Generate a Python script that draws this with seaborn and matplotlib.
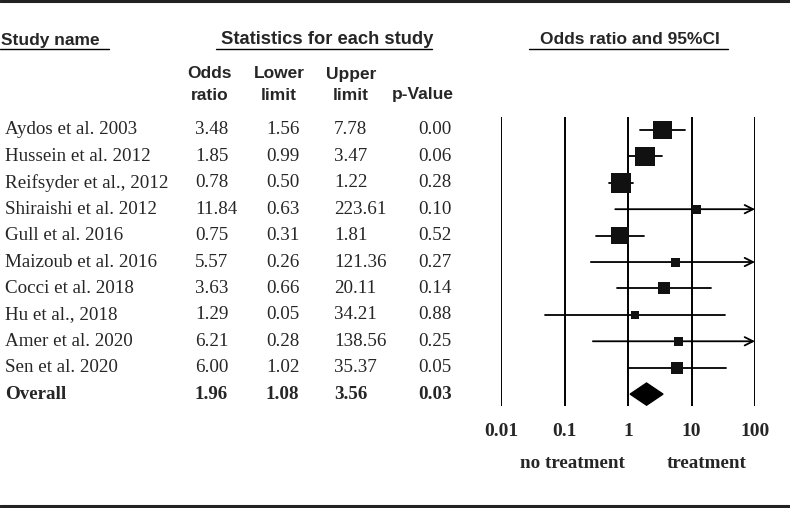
# forest plot of odds ratios, study table on the left

import numpy as np
import seaborn as sns
import matplotlib.pyplot as plt
from matplotlib.lines import Line2D
from matplotlib.transforms import blended_transform_factory

studies = ['Aydos et al. 2003', 'Hussein et al. 2012', 'Reifsyder et al., 2012',
           'Shiraishi et al. 2012', 'Gull et al. 2016', 'Maizoub et al. 2016',
           'Cocci et al. 2018', 'Hu et al., 2018', 'Amer et al. 2020', 'Sen et al. 2020']
odds_ratio = [3.48, 1.85, 0.78, 11.84, 0.75, 5.57, 3.63, 1.29, 6.21, 6.00]
lower = [1.56, 0.99, 0.50, 0.63, 0.31, 0.26, 0.66, 0.05, 0.28, 1.02]
upper = [7.78, 3.47, 1.22, 223.61, 1.81, 121.36, 20.11, 34.21, 138.56, 35.37]
p_value = [0.00, 0.06, 0.28, 0.10, 0.52, 0.27, 0.14, 0.88, 0.25, 0.05]
# relative weights (%)
weight_pct = [16.5, 18.3, 20.3, 4.1, 14.7, 4.1, 7.3, 3.3, 4.1, 7.3]

overall = {'or': 1.96, 'lower': 1.08, 'upper': 3.56, 'p': 0.03}

ticks = [0.01, 0.1, 1, 10, 100]
tick_labels = ['0.01', '0.1', '1', '10', '100']

sns.set_style('white')
plt.rcParams['font.family'] = ['Liberation Serif', 'DejaVu Serif']

W, H = 790, 508
fig = plt.figure(figsize=(W / 100, H / 100), dpi=100)

# forest panel, placed in pixel terms
ax = fig.add_axes([501 / W, 1 - 406 / H, 254 / W, 289 / H])
ax.set_xscale('log')
ax.set_xlim(0.01, 100)
ax.set_ylim(10.45, -0.49)
for s in ax.spines.values():
    s.set_visible(False)

for t in ticks:
    ax.axvline(t, color='black', lw=1.4, zorder=1)

rows = np.arange(len(studies))
clip_hi = [min(u, 100) for u in upper]
for r, lo, hi, u in zip(rows, lower, clip_hi, upper):
    if u > 100:
        ax.annotate('', xy=(hi, r), xytext=(lo, r),
                    arrowprops=dict(arrowstyle='->', color='black', lw=1.3,
                                    shrinkA=0, shrinkB=0, mutation_scale=15))
    else:
        ax.plot([lo, hi], [r, r], color='black', lw=1.3, zorder=2)

df = {'or': odds_ratio, 'row': rows, 'w': weight_pct}
sns.scatterplot(x='or', y='row', size='w', data=df, sizes=(33, 215), marker='s',
                color='#111111', edgecolor='none', legend=False, ax=ax, zorder=3)

# pooled estimate diamond
yo = len(studies)
ax.fill([overall['lower'], overall['or'], overall['upper'], overall['or']],
        [yo, yo - 0.42, yo, yo + 0.42], color='black', zorder=3)

ax.set_xticks(ticks)
ax.set_xticklabels(tick_labels, fontsize=14, fontweight='bold')
ax.minorticks_off()
ax.tick_params(axis='x', length=0, pad=12)
ax.set_yticks([])
ax.set_xlabel('')
ax.set_ylabel('')

fig.text(572 / W, 1 - 463 / H, 'no treatment', ha='center', va='center',
         fontsize=13.7, fontweight='bold')
fig.text(707 / W, 1 - 463 / H, 'treatment', ha='center', va='center',
         fontsize=13.7, fontweight='bold')

# table columns
tr = blended_transform_factory(fig.transFigure, ax.transData)
cols = [5, 195, 266, 334, 418]
for r in rows:
    vals = [studies[r], f'{odds_ratio[r]:.2f}', f'{lower[r]:.2f}',
            f'{upper[r]:.2f}', f'{p_value[r]:.2f}']
    for x, v in zip(cols, vals):
        fig.text(x / W, r, v, transform=tr, ha='left', va='center', fontsize=13.7)
vals = ['Overall', f"{overall['or']:.2f}", f"{overall['lower']:.2f}",
        f"{overall['upper']:.2f}", f"{overall['p']:.2f}"]
for x, v in zip(cols, vals):
    fig.text(x / W, yo, v, transform=tr, ha='left', va='center',
             fontsize=13.7, fontweight='bold')

# headers
hdr = dict(family=['Liberation Sans', 'DejaVu Sans'], fontweight='bold', fontsize=12.5)
fig.text(1 / W, 1 - 40 / H, 'Study name', ha='left', va='center', **hdr)
fig.text(327 / W, 1 - 40 / H, 'Statistics for each study', ha='center', va='center',
         family=['Liberation Sans', 'DejaVu Sans'], fontweight='bold', fontsize=13.2)
fig.text(630 / W, 1 - 40 / H, 'Odds ratio and 95%CI', ha='center', va='center', **hdr)
for x, top, bot in [(210, 'Odds', 'ratio'), (279, 'Lower', 'limit'), (351, 'Upper', 'limit')]:
    fig.text(x / W, 1 - 74 / H, top, ha='center', va='center', **hdr)
    fig.text(x / W, 1 - 95 / H, bot, ha='center', va='center', **hdr)
fig.text(423 / W, 1 - 95 / H, 'p-Value', ha='center', va='center', **hdr)

for x0, x1 in [(0, 109), (216, 432), (529, 728)]:
    fig.add_artist(Line2D([x0 / W, x1 / W], [1 - 49 / H] * 2, color='black', lw=1.0))
fig.add_artist(Line2D([0, 1], [1 - 1 / H] * 2, color='#222222', lw=2.2))
fig.add_artist(Line2D([0, 1], [1 - 506 / H] * 2, color='#222222', lw=2.2))

fig.savefig('out.png', dpi=100)
